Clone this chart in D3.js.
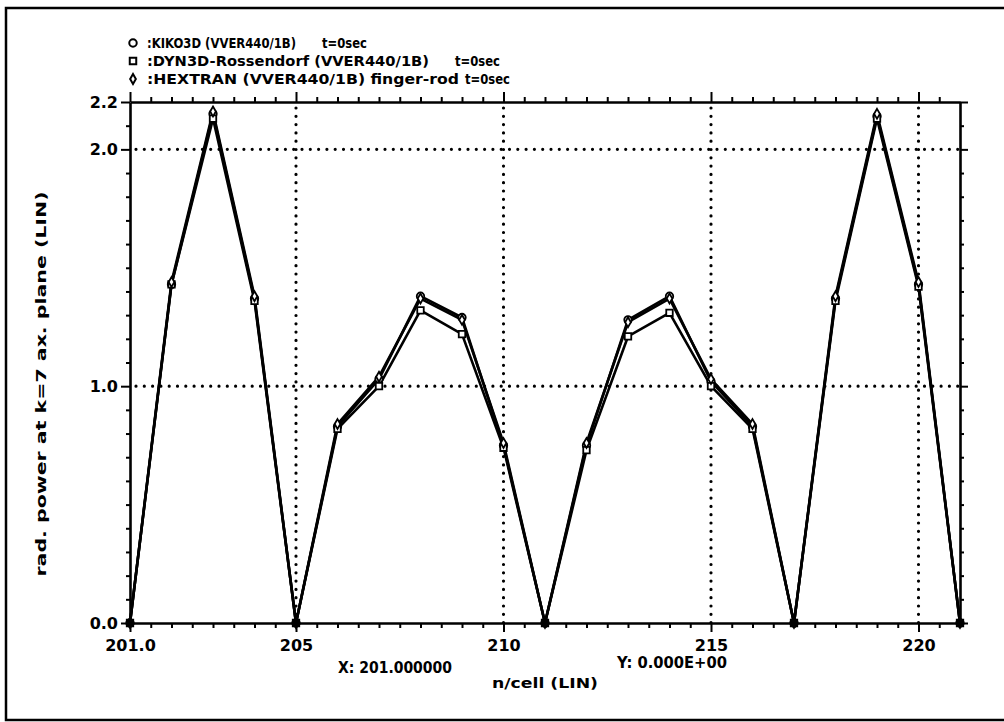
<!DOCTYPE html>
<html>
<head>
<meta charset="utf-8">
<script src="https://cdn.jsdelivr.net/npm/d3@7/dist/d3.min.js"></script>
<style>
  html, body { margin: 0; padding: 0; background: #fff; }
  svg { display: block; }
  text { font-family: "DejaVu Sans", sans-serif; font-weight: bold; fill: #000; }
</style>
</head>
<body>
<svg id="chart" width="1004" height="722"></svg>
<script>
// Radial power per cell at k=7 axial plane — three codes compared (KIKO3D / DYN3D / HEXTRAN).
(function () {
  "use strict";

  // cells along the traverse
  const CELLS = [201, 202, 203, 204, 205, 206, 207, 208, 209, 210,
                 211, 212, 213, 214, 215, 216, 217, 218, 219, 220, 221];

  // series values
  const KIKO3D  = [0, 1.43, 2.15, 1.37, 0, 0.83, 1.03, 1.38, 1.29, 0.75,
                   0, 0.75, 1.28, 1.38, 1.02, 0.83, 0, 1.37, 2.14, 1.43, 0];
  const DYN3D   = [0, 1.43, 2.13, 1.36, 0, 0.82, 1.00, 1.32, 1.22, 0.74,
                   0, 0.73, 1.21, 1.31, 1.00, 0.82, 0, 1.36, 2.13, 1.42, 0];
  const HEXTRAN = [0, 1.44, 2.16, 1.38, 0, 0.84, 1.04, 1.37, 1.28, 0.76,
                   0, 0.76, 1.27, 1.37, 1.03, 0.84, 0, 1.38, 2.15, 1.44, 0];

  const SERIES = [
    { name: ":KIKO3D (VVER440/1B)", tail: "t=0sec", values: KIKO3D, symbol: d3.symbolCircle, size: 44 },
    { name: ":DYN3D-Rossendorf (VVER440/1B)", tail: "t=0sec", values: DYN3D, symbol: d3.symbolSquare, size: 42 },
    { name: ":HEXTRAN (VVER440/1B) finger-rod", tail: "t=0sec", values: HEXTRAN, symbol: d3.symbolDiamond, size: 28 }
  ];

  // tick values / labels
  const X_MAJOR = [201, 205, 210, 215, 220];
  const X_MAJOR_LABELS = ["201.0", "205", "210", "215", "220"];
  const X_MINOR = [201.5, 202, 202.5, 203, 203.5, 204, 204.5, 205.5, 206, 206.5, 207, 207.5,
                   208, 208.5, 209, 209.5, 210.5, 211, 211.5, 212, 212.5, 213, 213.5, 214,
                   214.5, 215.5, 216, 216.5, 217, 217.5, 218, 218.5, 219, 219.5, 220.5];
  const X_GRID = [205, 210, 215, 220];
  const Y_MAJOR = [0, 1.0, 2.0, 2.2];
  const Y_MAJOR_LABELS = ["0.0", "1.0", "2.0", "2.2"];
  const Y_MINOR = [0.1, 0.2, 0.3, 0.4, 0.5, 0.6, 0.7, 0.8, 0.9, 1.1, 1.2, 1.3, 1.4,
                   1.5, 1.6, 1.7, 1.8, 1.9, 2.1];
  const Y_GRID = [1.0, 2.0];

  const L = 130, R = 960, T = 102, B = 623;

  const svg = d3.select("#chart");

  const x = d3.scaleLinear().domain([201, 221]).range([L, R]);
  const y = d3.scaleLinear().domain([0, 2.2]).range([B, T]);

  // page frame (left, top, bottom edges only — right one is off the scan)
  svg.append("path")
    .attr("d", "M1004,8 L6,8 L6,720 L1004,720")
    .attr("fill", "none")
    .attr("stroke", "#000")
    .attr("stroke-width", 2.5);

  // dotted grid
  const grid = svg.append("g")
    .attr("stroke", "#000")
    .attr("stroke-width", 3.2)
    .attr("stroke-linecap", "round")
    .attr("stroke-dasharray", "0 8.3");
  grid.selectAll("line.v").data(X_GRID).join("line")
    .attr("class", "v")
    .attr("x1", d => x(d)).attr("x2", d => x(d))
    .attr("y1", T + 6).attr("y2", B);
  grid.selectAll("line.h").data(Y_GRID).join("line")
    .attr("class", "h")
    .attr("x1", L + 6).attr("x2", R)
    .attr("y1", d => y(d)).attr("y2", d => y(d));

  // axes: minor then major ticks on every side
  function styleAxis(g, fontSize) {
    g.select(".domain").attr("stroke-width", 2.6);
    g.selectAll(".tick line").attr("stroke-width", 2);
    g.selectAll(".tick text")
      .attr("font-family", "DejaVu Sans, sans-serif")
      .attr("font-weight", "bold")
      .attr("font-size", fontSize);
  }

  // bottom
  svg.append("g").attr("transform", "translate(0," + B + ")")
    .call(d3.axisBottom(x).tickValues(X_MINOR).tickSize(5).tickSizeOuter(0).tickFormat(""))
    .call(g => styleAxis(g, 15));
  svg.append("g").attr("transform", "translate(0," + B + ")")
    .call(d3.axisBottom(x).tickValues(X_MAJOR).tickSize(9).tickSizeOuter(0).tickPadding(8)
      .tickFormat((d, i) => X_MAJOR_LABELS[i]))
    .call(g => styleAxis(g, 16))
    .call(g => g.select(".domain").remove());

  // top
  svg.append("g").attr("transform", "translate(0," + T + ")")
    .call(d3.axisTop(x).tickValues(X_MINOR).tickSize(5).tickSizeOuter(0).tickFormat(""))
    .call(g => styleAxis(g, 15));
  svg.append("g").attr("transform", "translate(0," + T + ")")
    .call(d3.axisTop(x).tickValues(X_MAJOR).tickSize(10).tickSizeOuter(0).tickFormat(""))
    .call(g => g.select(".domain").remove())
    .call(g => styleAxis(g, 15));

  // left
  svg.append("g").attr("transform", "translate(" + L + ",0)")
    .call(d3.axisLeft(y).tickValues(Y_MINOR).tickSize(4).tickSizeOuter(0).tickFormat(""))
    .call(g => styleAxis(g, 15));
  svg.append("g").attr("transform", "translate(" + L + ",0)")
    .call(d3.axisLeft(y).tickValues(Y_MAJOR).tickSize(9).tickSizeOuter(0).tickPadding(3)
      .tickFormat((d, i) => Y_MAJOR_LABELS[i]))
    .call(g => g.select(".domain").remove())
    .call(g => styleAxis(g, 16));

  // right
  svg.append("g").attr("transform", "translate(" + R + ",0)")
    .call(d3.axisRight(y).tickValues(Y_MINOR).tickSize(4).tickSizeOuter(0).tickFormat(""))
    .call(g => styleAxis(g, 15));
  svg.append("g").attr("transform", "translate(" + R + ",0)")
    .call(d3.axisRight(y).tickValues(Y_MAJOR).tickSize(8).tickSizeOuter(0).tickFormat(""))
    .call(g => g.select(".domain").remove())
    .call(g => styleAxis(g, 15));

  // series lines
  const line = d3.line()
    .x((d, i) => x(CELLS[i]))
    .y(d => y(d));

  SERIES.forEach(function (s) {
    svg.append("path")
      .datum(s.values)
      .attr("d", line)
      .attr("fill", "none")
      .attr("stroke", "#000")
      .attr("stroke-width", 2.6)
      .attr("stroke-linejoin", "round");
  });

  // markers on top
  SERIES.forEach(function (s) {
    const sym = d3.symbol().type(s.symbol).size(s.size);
    svg.append("g").selectAll("path")
      .data(s.values)
      .join("path")
      .attr("transform", (d, i) => "translate(" + x(CELLS[i]) + "," + y(d) + ")")
      .attr("d", sym)
      .attr("fill", d => d === 0 ? "#000" : "#fff")
      .attr("stroke", "#000")
      .attr("stroke-width", 1.8);
  });

  // legend block, top left
  const LEGEND_Y = [43, 61, 79];
  const NAME_LEN = [149, 282, 312];
  const TAIL_X = [322, 455, 465];
  SERIES.forEach(function (s, i) {
    svg.append("path")
      .attr("transform", "translate(133," + LEGEND_Y[i] + ")")
      .attr("d", d3.symbol().type(s.symbol).size(s.size)())
      .attr("fill", "#fff")
      .attr("stroke", "#000")
      .attr("stroke-width", 2);
    svg.append("text")
      .attr("x", 147).attr("y", LEGEND_Y[i] + 5)
      .attr("font-size", 13.5)
      .attr("textLength", NAME_LEN[i])
      .attr("lengthAdjust", "spacingAndGlyphs")
      .text(s.name);
    svg.append("text")
      .attr("x", TAIL_X[i]).attr("y", LEGEND_Y[i] + 5)
      .attr("font-size", 13.5)
      .attr("textLength", 45)
      .attr("lengthAdjust", "spacingAndGlyphs")
      .text(s.tail);
  });

  // axis titles and cursor readout
  svg.append("text")
    .attr("transform", "translate(46,384) rotate(-90)")
    .attr("text-anchor", "middle")
    .attr("font-size", 14)
    .attr("textLength", 385)
    .attr("lengthAdjust", "spacingAndGlyphs")
    .text("rad. power at k=7 ax. plane (LIN)");

  svg.append("text")
    .attr("x", 492).attr("y", 688)
    .attr("font-size", 14)
    .attr("textLength", 106)
    .attr("lengthAdjust", "spacingAndGlyphs")
    .text("n/cell (LIN)");

  svg.append("text")
    .attr("x", 338).attr("y", 673)
    .attr("font-size", 15)
    .attr("textLength", 114)
    .attr("lengthAdjust", "spacingAndGlyphs")
    .text("X: 201.000000");

  svg.append("text")
    .attr("x", 617).attr("y", 668)
    .attr("font-size", 15)
    .attr("textLength", 110)
    .attr("lengthAdjust", "spacingAndGlyphs")
    .text("Y: 0.000E+00");
})();
</script>
</body>
</html>
